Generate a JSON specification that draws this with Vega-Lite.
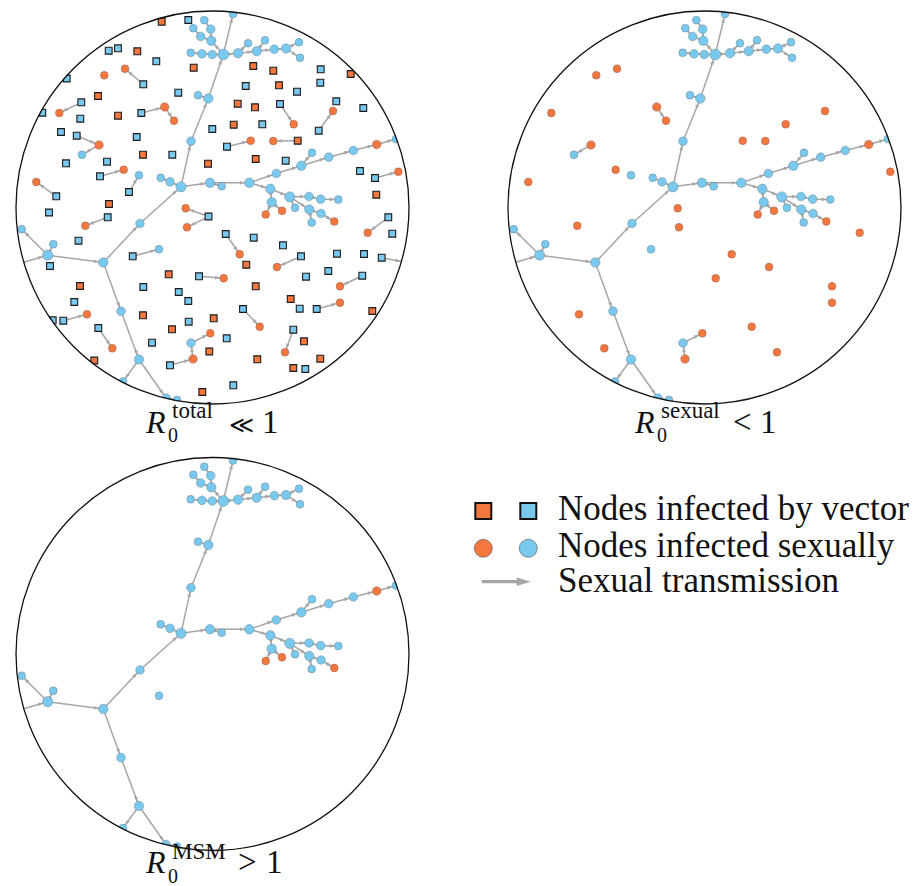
{
  "$schema": "https://vega.github.io/schema/vega-lite/v6.json",
  "width": 916,
  "height": 886,
  "padding": 0,
  "autosize": {"type": "none"},
  "background": "white",
  "config": {"view": {"stroke": null}, "legend": {"disable": true}},
  "datasets": {
    "nodes": [
      {"id": "tg", "x": 22, "y": 262.7, "grp": "b", "how": "none", "deg": 1, "panels": "123"},
      {"id": "L", "x": 47.7, "y": 255.2, "grp": "b", "how": "sexual", "deg": 4, "panels": "123"},
      {"id": "n2", "x": 21.7, "y": 229.2, "grp": "b", "how": "sexual", "deg": 1, "panels": "123"},
      {"id": "n3", "x": 53.3, "y": 244.2, "grp": "b", "how": "sexual", "deg": 1, "panels": "123"},
      {"id": "M", "x": 103.3, "y": 262.5, "grp": "b", "how": "sexual", "deg": 3, "panels": "123"},
      {"id": "a1", "x": 140, "y": 223.5, "grp": "b", "how": "sexual", "deg": 2, "panels": "123"},
      {"id": "C", "x": 181, "y": 186.8, "grp": "b", "how": "sexual", "deg": 4, "panels": "123"},
      {"id": "c1", "x": 170, "y": 181.8, "grp": "b", "how": "sexual", "deg": 2, "panels": "123"},
      {"id": "c2", "x": 160.7, "y": 177.8, "grp": "b", "how": "sexual", "deg": 1, "panels": "123"},
      {"id": "u1", "x": 191, "y": 141.2, "grp": "b", "how": "sexual", "deg": 2, "panels": "123"},
      {"id": "u2", "x": 208.3, "y": 98.5, "grp": "b", "how": "sexual", "deg": 3, "panels": "123"},
      {"id": "u3", "x": 198, "y": 95.2, "grp": "b", "how": "sexual", "deg": 1, "panels": "123"},
      {"id": "T", "x": 223.3, "y": 54.5, "grp": "b", "how": "sexual", "deg": 5, "panels": "123"},
      {"id": "tip", "x": 233, "y": 14, "grp": "b", "how": "sexual", "deg": 1, "panels": "123"},
      {"id": "l1", "x": 212.3, "y": 54.5, "grp": "b", "how": "sexual", "deg": 2, "panels": "123"},
      {"id": "l2", "x": 202, "y": 53.8, "grp": "b", "how": "sexual", "deg": 2, "panels": "123"},
      {"id": "l3", "x": 190.7, "y": 52.8, "grp": "b", "how": "sexual", "deg": 1, "panels": "123"},
      {"id": "k1", "x": 211.3, "y": 40.8, "grp": "b", "how": "sexual", "deg": 3, "panels": "123"},
      {"id": "k2", "x": 200.7, "y": 36.5, "grp": "b", "how": "sexual", "deg": 2, "panels": "123"},
      {"id": "k3", "x": 193.3, "y": 28.2, "grp": "b", "how": "sexual", "deg": 1, "panels": "123"},
      {"id": "k4", "x": 210.7, "y": 29.2, "grp": "b", "how": "sexual", "deg": 2, "panels": "123"},
      {"id": "k5", "x": 204.3, "y": 20.2, "grp": "b", "how": "sexual", "deg": 1, "panels": "123"},
      {"id": "r1", "x": 238, "y": 53.2, "grp": "b", "how": "sexual", "deg": 3, "panels": "123"},
      {"id": "r2", "x": 256.7, "y": 51.2, "grp": "b", "how": "sexual", "deg": 3, "panels": "123"},
      {"id": "r3", "x": 248, "y": 43.2, "grp": "b", "how": "sexual", "deg": 1, "panels": "123"},
      {"id": "r4", "x": 265, "y": 40.2, "grp": "b", "how": "sexual", "deg": 1, "panels": "123"},
      {"id": "r5", "x": 274.3, "y": 49.2, "grp": "b", "how": "sexual", "deg": 2, "panels": "123"},
      {"id": "r6", "x": 286, "y": 48.5, "grp": "b", "how": "sexual", "deg": 3, "panels": "123"},
      {"id": "r7", "x": 299, "y": 42.2, "grp": "b", "how": "sexual", "deg": 1, "panels": "123"},
      {"id": "r8", "x": 300, "y": 57.8, "grp": "b", "how": "sexual", "deg": 1, "panels": "123"},
      {"id": "m1", "x": 210, "y": 182.8, "grp": "b", "how": "sexual", "deg": 3, "panels": "123"},
      {"id": "m2", "x": 221.7, "y": 186.2, "grp": "b", "how": "sexual", "deg": 1, "panels": "123"},
      {"id": "m3", "x": 249.3, "y": 182.8, "grp": "b", "how": "sexual", "deg": 3, "panels": "123"},
      {"id": "e1", "x": 276.3, "y": 173.5, "grp": "b", "how": "sexual", "deg": 2, "panels": "123"},
      {"id": "e2", "x": 301.3, "y": 165.8, "grp": "b", "how": "sexual", "deg": 3, "panels": "123"},
      {"id": "e3", "x": 312, "y": 152.8, "grp": "b", "how": "sexual", "deg": 1, "panels": "123"},
      {"id": "e4", "x": 328.7, "y": 157.2, "grp": "b", "how": "sexual", "deg": 2, "panels": "123"},
      {"id": "e5", "x": 353.3, "y": 150.5, "grp": "b", "how": "sexual", "deg": 2, "panels": "123"},
      {"id": "e6", "x": 376.7, "y": 144.5, "grp": "a", "how": "sexual", "deg": 2, "panels": "123"},
      {"id": "e7", "x": 396, "y": 139, "grp": "b", "how": "sexual", "deg": 1, "panels": "123"},
      {"id": "s1", "x": 270.3, "y": 188.8, "grp": "b", "how": "sexual", "deg": 3, "panels": "123"},
      {"id": "s2", "x": 289.7, "y": 196.8, "grp": "b", "how": "sexual", "deg": 4, "panels": "123"},
      {"id": "s3", "x": 271.7, "y": 202.2, "grp": "b", "how": "sexual", "deg": 3, "panels": "123"},
      {"id": "s4", "x": 265.7, "y": 214.5, "grp": "a", "how": "sexual", "deg": 1, "panels": "123"},
      {"id": "s5", "x": 282, "y": 210.8, "grp": "a", "how": "sexual", "deg": 1, "panels": "123"},
      {"id": "s6", "x": 295, "y": 207.8, "grp": "b", "how": "sexual", "deg": 1, "panels": "123"},
      {"id": "s7", "x": 309, "y": 196.5, "grp": "b", "how": "sexual", "deg": 2, "panels": "123"},
      {"id": "s8", "x": 320.7, "y": 199.2, "grp": "b", "how": "sexual", "deg": 2, "panels": "123"},
      {"id": "s9", "x": 338.3, "y": 199.5, "grp": "b", "how": "sexual", "deg": 1, "panels": "123"},
      {"id": "s10", "x": 309.3, "y": 209.5, "grp": "b", "how": "sexual", "deg": 3, "panels": "123"},
      {"id": "s11", "x": 321, "y": 213.5, "grp": "b", "how": "sexual", "deg": 2, "panels": "123"},
      {"id": "s12", "x": 311.7, "y": 222.5, "grp": "b", "how": "sexual", "deg": 1, "panels": "123"},
      {"id": "s13", "x": 334.3, "y": 221.5, "grp": "a", "how": "sexual", "deg": 1, "panels": "123"},
      {"id": "d1", "x": 121, "y": 311.2, "grp": "b", "how": "sexual", "deg": 2, "panels": "123"},
      {"id": "d2", "x": 139, "y": 359.5, "grp": "b", "how": "sexual", "deg": 3, "panels": "123"},
      {"id": "d3", "x": 123, "y": 381.5, "grp": "b", "how": "sexual", "deg": 1, "panels": "123"},
      {"id": "d4", "x": 166, "y": 398, "grp": "b", "how": "sexual", "deg": 2, "panels": "123"},
      {"id": "d5", "x": 177, "y": 400, "grp": "b", "how": "sexual", "deg": 1, "panels": "123"},
      {"id": "o1", "x": 104.3, "y": 75.3, "grp": "a", "how": "sexual", "deg": 1, "panels": "12"},
      {"id": "o2", "x": 125, "y": 68.7, "grp": "a", "how": "sexual", "deg": 1, "panels": "12"},
      {"id": "o3", "x": 59.3, "y": 113, "grp": "a", "how": "sexual", "deg": 1, "panels": "12"},
      {"id": "o4", "x": 164.7, "y": 107, "grp": "a", "how": "sexual", "deg": 2, "panels": "12"},
      {"id": "o5", "x": 174, "y": 120.7, "grp": "a", "how": "sexual", "deg": 1, "panels": "12"},
      {"id": "o6", "x": 99, "y": 145, "grp": "a", "how": "sexual", "deg": 2, "panels": "12"},
      {"id": "o7", "x": 82, "y": 154.7, "grp": "b", "how": "sexual", "deg": 1, "panels": "12"},
      {"id": "o8", "x": 123.7, "y": 169.7, "grp": "a", "how": "sexual", "deg": 1, "panels": "12"},
      {"id": "o9", "x": 139, "y": 175.3, "grp": "b", "how": "sexual", "deg": 1, "panels": "12"},
      {"id": "o10", "x": 36.3, "y": 182, "grp": "a", "how": "sexual", "deg": 1, "panels": "12"},
      {"id": "o11", "x": 185.7, "y": 208.3, "grp": "a", "how": "sexual", "deg": 1, "panels": "12"},
      {"id": "o12", "x": 187, "y": 227.3, "grp": "a", "how": "sexual", "deg": 1, "panels": "12"},
      {"id": "o13", "x": 85.3, "y": 225.7, "grp": "a", "how": "sexual", "deg": 1, "panels": "12"},
      {"id": "o14", "x": 159, "y": 249.3, "grp": "b", "how": "sexual", "deg": 1, "panels": "123"},
      {"id": "o15", "x": 87, "y": 314.3, "grp": "a", "how": "sexual", "deg": 1, "panels": "12"},
      {"id": "o16", "x": 112.3, "y": 348.3, "grp": "a", "how": "sexual", "deg": 1, "panels": "12"},
      {"id": "o17", "x": 191, "y": 343, "grp": "b", "how": "sexual", "deg": 2, "panels": "12"},
      {"id": "o18", "x": 210.3, "y": 333.3, "grp": "a", "how": "sexual", "deg": 1, "panels": "12"},
      {"id": "o19", "x": 193, "y": 359, "grp": "a", "how": "sexual", "deg": 2, "panels": "12"},
      {"id": "o20", "x": 223.7, "y": 278.3, "grp": "a", "how": "sexual", "deg": 1, "panels": "12"},
      {"id": "o21", "x": 239.7, "y": 254.3, "grp": "a", "how": "sexual", "deg": 1, "panels": "12"},
      {"id": "o22", "x": 250.7, "y": 140.7, "grp": "a", "how": "sexual", "deg": 1, "panels": "12"},
      {"id": "o23", "x": 273.3, "y": 141, "grp": "a", "how": "sexual", "deg": 1, "panels": "12"},
      {"id": "o24", "x": 293.7, "y": 124.3, "grp": "a", "how": "sexual", "deg": 1, "panels": "12"},
      {"id": "o25", "x": 333, "y": 111, "grp": "a", "how": "sexual", "deg": 1, "panels": "12"},
      {"id": "o26", "x": 277, "y": 267, "grp": "a", "how": "sexual", "deg": 1, "panels": "12"},
      {"id": "o27", "x": 259.7, "y": 326.7, "grp": "a", "how": "sexual", "deg": 1, "panels": "12"},
      {"id": "o28", "x": 285, "y": 352.3, "grp": "a", "how": "sexual", "deg": 1, "panels": "12"},
      {"id": "o29", "x": 367.7, "y": 232.7, "grp": "a", "how": "sexual", "deg": 1, "panels": "12"},
      {"id": "o30", "x": 340, "y": 286.3, "grp": "a", "how": "sexual", "deg": 1, "panels": "12"},
      {"id": "o31", "x": 340, "y": 302.7, "grp": "a", "how": "sexual", "deg": 1, "panels": "12"},
      {"id": "o32", "x": 398.3, "y": 171.7, "grp": "a", "how": "sexual", "deg": 1, "panels": "12"},
      {"id": "g2", "x": 404, "y": 262, "grp": "b", "how": "none", "deg": 1, "panels": "1"},
      {"id": "v1", "x": 188.3, "y": 20, "grp": "b", "how": "vector", "deg": 1, "panels": "1"},
      {"id": "v2", "x": 161.7, "y": 21.7, "grp": "a", "how": "vector", "deg": 1, "panels": "1"},
      {"id": "v3", "x": 108.7, "y": 50.7, "grp": "b", "how": "vector", "deg": 1, "panels": "1"},
      {"id": "v4", "x": 118, "y": 48.3, "grp": "b", "how": "vector", "deg": 1, "panels": "1"},
      {"id": "v5", "x": 137.3, "y": 51.3, "grp": "a", "how": "vector", "deg": 1, "panels": "1"},
      {"id": "v6", "x": 156.3, "y": 61.3, "grp": "b", "how": "vector", "deg": 1, "panels": "1"},
      {"id": "v7", "x": 193.7, "y": 67.7, "grp": "a", "how": "vector", "deg": 1, "panels": "1"},
      {"id": "v8", "x": 143.3, "y": 84.3, "grp": "b", "how": "vector", "deg": 1, "panels": "1"},
      {"id": "v9", "x": 66.7, "y": 78.5, "grp": "b", "how": "vector", "deg": 1, "panels": "1"},
      {"id": "v10", "x": 98, "y": 96, "grp": "a", "how": "vector", "deg": 1, "panels": "1"},
      {"id": "v11", "x": 178.3, "y": 92.7, "grp": "b", "how": "vector", "deg": 1, "panels": "1"},
      {"id": "v12", "x": 81.3, "y": 102.3, "grp": "b", "how": "vector", "deg": 1, "panels": "1"},
      {"id": "v13", "x": 42.3, "y": 112.7, "grp": "b", "how": "vector", "deg": 1, "panels": "1"},
      {"id": "v14", "x": 118, "y": 115.7, "grp": "a", "how": "vector", "deg": 1, "panels": "1"},
      {"id": "v15", "x": 141.3, "y": 113, "grp": "b", "how": "vector", "deg": 1, "panels": "1"},
      {"id": "v16", "x": 80.3, "y": 118.7, "grp": "b", "how": "vector", "deg": 1, "panels": "1"},
      {"id": "v17", "x": 61, "y": 132, "grp": "b", "how": "vector", "deg": 1, "panels": "1"},
      {"id": "v18", "x": 76.7, "y": 135.7, "grp": "b", "how": "vector", "deg": 1, "panels": "1"},
      {"id": "v19", "x": 136.7, "y": 137, "grp": "b", "how": "vector", "deg": 1, "panels": "1"},
      {"id": "v20", "x": 143, "y": 154.7, "grp": "a", "how": "vector", "deg": 1, "panels": "1"},
      {"id": "v21", "x": 172.3, "y": 154.7, "grp": "b", "how": "vector", "deg": 1, "panels": "1"},
      {"id": "v22", "x": 212.3, "y": 129, "grp": "b", "how": "vector", "deg": 1, "panels": "1"},
      {"id": "v23", "x": 208, "y": 163.7, "grp": "a", "how": "vector", "deg": 1, "panels": "1"},
      {"id": "v24", "x": 66, "y": 163.3, "grp": "b", "how": "vector", "deg": 1, "panels": "1"},
      {"id": "v25", "x": 107, "y": 161.7, "grp": "b", "how": "vector", "deg": 1, "panels": "1"},
      {"id": "v26", "x": 100, "y": 176.3, "grp": "b", "how": "vector", "deg": 1, "panels": "1"},
      {"id": "v27", "x": 129, "y": 192, "grp": "b", "how": "vector", "deg": 1, "panels": "1"},
      {"id": "v28", "x": 56.3, "y": 196.3, "grp": "b", "how": "vector", "deg": 1, "panels": "1"},
      {"id": "v29", "x": 109, "y": 204, "grp": "a", "how": "vector", "deg": 1, "panels": "1"},
      {"id": "v30", "x": 49, "y": 212.5, "grp": "b", "how": "vector", "deg": 1, "panels": "1"},
      {"id": "v31", "x": 107.7, "y": 217.3, "grp": "b", "how": "vector", "deg": 1, "panels": "1"},
      {"id": "v32", "x": 78.5, "y": 240.7, "grp": "b", "how": "vector", "deg": 1, "panels": "1"},
      {"id": "v33", "x": 208.5, "y": 216.5, "grp": "b", "how": "vector", "deg": 1, "panels": "1"},
      {"id": "v34", "x": 50, "y": 266, "grp": "b", "how": "vector", "deg": 1, "panels": "1"},
      {"id": "v35", "x": 132.7, "y": 256.3, "grp": "b", "how": "vector", "deg": 1, "panels": "1"},
      {"id": "v36", "x": 168.7, "y": 274.3, "grp": "a", "how": "vector", "deg": 1, "panels": "1"},
      {"id": "v37", "x": 199, "y": 276.3, "grp": "b", "how": "vector", "deg": 1, "panels": "1"},
      {"id": "v38", "x": 80, "y": 286, "grp": "a", "how": "vector", "deg": 1, "panels": "1"},
      {"id": "v39", "x": 143.3, "y": 287, "grp": "b", "how": "vector", "deg": 1, "panels": "1"},
      {"id": "v40", "x": 178.7, "y": 292, "grp": "b", "how": "vector", "deg": 1, "panels": "1"},
      {"id": "v41", "x": 188.3, "y": 301, "grp": "b", "how": "vector", "deg": 1, "panels": "1"},
      {"id": "v42", "x": 74.3, "y": 302, "grp": "b", "how": "vector", "deg": 1, "panels": "1"},
      {"id": "v43", "x": 52.7, "y": 320.3, "grp": "b", "how": "vector", "deg": 1, "panels": "1"},
      {"id": "v44", "x": 63.3, "y": 320.7, "grp": "b", "how": "vector", "deg": 1, "panels": "1"},
      {"id": "v45", "x": 143, "y": 315.3, "grp": "a", "how": "vector", "deg": 1, "panels": "1"},
      {"id": "v46", "x": 188.7, "y": 321.7, "grp": "b", "how": "vector", "deg": 1, "panels": "1"},
      {"id": "v47", "x": 213.7, "y": 318.3, "grp": "a", "how": "vector", "deg": 1, "panels": "1"},
      {"id": "v48", "x": 98.3, "y": 328, "grp": "b", "how": "vector", "deg": 1, "panels": "1"},
      {"id": "v49", "x": 172, "y": 329.3, "grp": "a", "how": "vector", "deg": 1, "panels": "1"},
      {"id": "v50", "x": 152, "y": 342.7, "grp": "b", "how": "vector", "deg": 1, "panels": "1"},
      {"id": "v51", "x": 209.3, "y": 351.5, "grp": "a", "how": "vector", "deg": 1, "panels": "1"},
      {"id": "v52", "x": 170, "y": 365.3, "grp": "b", "how": "vector", "deg": 1, "panels": "1"},
      {"id": "v53", "x": 94.3, "y": 360.5, "grp": "a", "how": "vector", "deg": 1, "panels": "1"},
      {"id": "v54", "x": 202.3, "y": 392, "grp": "a", "how": "vector", "deg": 1, "panels": "1"},
      {"id": "v55", "x": 253.3, "y": 66, "grp": "a", "how": "vector", "deg": 1, "panels": "1"},
      {"id": "v56", "x": 273.3, "y": 70.7, "grp": "a", "how": "vector", "deg": 1, "panels": "1"},
      {"id": "v57", "x": 320.7, "y": 69.3, "grp": "b", "how": "vector", "deg": 1, "panels": "1"},
      {"id": "v58", "x": 350.7, "y": 74, "grp": "a", "how": "vector", "deg": 1, "panels": "1"},
      {"id": "v59", "x": 245.7, "y": 86, "grp": "b", "how": "vector", "deg": 1, "panels": "1"},
      {"id": "v60", "x": 279, "y": 85.3, "grp": "a", "how": "vector", "deg": 1, "panels": "1"},
      {"id": "v61", "x": 320.3, "y": 82.7, "grp": "b", "how": "vector", "deg": 1, "panels": "1"},
      {"id": "v62", "x": 297, "y": 91.7, "grp": "b", "how": "vector", "deg": 1, "panels": "1"},
      {"id": "v63", "x": 237.7, "y": 103.7, "grp": "a", "how": "vector", "deg": 1, "panels": "1"},
      {"id": "v64", "x": 255, "y": 107.3, "grp": "a", "how": "vector", "deg": 1, "panels": "1"},
      {"id": "v65", "x": 280, "y": 104, "grp": "b", "how": "vector", "deg": 1, "panels": "1"},
      {"id": "v66", "x": 336.3, "y": 101.3, "grp": "b", "how": "vector", "deg": 1, "panels": "1"},
      {"id": "v67", "x": 363.3, "y": 108, "grp": "b", "how": "vector", "deg": 1, "panels": "1"},
      {"id": "v68", "x": 318.7, "y": 130.7, "grp": "b", "how": "vector", "deg": 1, "panels": "1"},
      {"id": "v69", "x": 233.7, "y": 124.7, "grp": "a", "how": "vector", "deg": 1, "panels": "1"},
      {"id": "v70", "x": 262.3, "y": 124.3, "grp": "b", "how": "vector", "deg": 1, "panels": "1"},
      {"id": "v71", "x": 227, "y": 146.7, "grp": "b", "how": "vector", "deg": 1, "panels": "1"},
      {"id": "v72", "x": 297.7, "y": 140.7, "grp": "a", "how": "vector", "deg": 1, "panels": "1"},
      {"id": "v73", "x": 255.7, "y": 159, "grp": "a", "how": "vector", "deg": 1, "panels": "1"},
      {"id": "v74", "x": 285.7, "y": 160.7, "grp": "b", "how": "vector", "deg": 1, "panels": "1"},
      {"id": "v75", "x": 360, "y": 171, "grp": "b", "how": "vector", "deg": 1, "panels": "1"},
      {"id": "v76", "x": 375, "y": 178, "grp": "b", "how": "vector", "deg": 1, "panels": "1"},
      {"id": "v77", "x": 376.3, "y": 194.7, "grp": "a", "how": "vector", "deg": 1, "panels": "1"},
      {"id": "v78", "x": 388.3, "y": 217.3, "grp": "b", "how": "vector", "deg": 1, "panels": "1"},
      {"id": "v79", "x": 225.7, "y": 234, "grp": "b", "how": "vector", "deg": 1, "panels": "1"},
      {"id": "v80", "x": 253.7, "y": 237.7, "grp": "b", "how": "vector", "deg": 1, "panels": "1"},
      {"id": "v81", "x": 283, "y": 245.3, "grp": "b", "how": "vector", "deg": 1, "panels": "1"},
      {"id": "v82", "x": 392.3, "y": 233.7, "grp": "b", "how": "vector", "deg": 1, "panels": "1"},
      {"id": "v83", "x": 246.3, "y": 264.7, "grp": "a", "how": "vector", "deg": 1, "panels": "1"},
      {"id": "v84", "x": 301, "y": 256.3, "grp": "b", "how": "vector", "deg": 1, "panels": "1"},
      {"id": "v85", "x": 337, "y": 253.7, "grp": "b", "how": "vector", "deg": 1, "panels": "1"},
      {"id": "v86", "x": 364, "y": 254, "grp": "b", "how": "vector", "deg": 1, "panels": "1"},
      {"id": "v87", "x": 381.7, "y": 257.7, "grp": "b", "how": "vector", "deg": 1, "panels": "1"},
      {"id": "v88", "x": 306, "y": 276.7, "grp": "b", "how": "vector", "deg": 1, "panels": "1"},
      {"id": "v89", "x": 328.3, "y": 271, "grp": "b", "how": "vector", "deg": 1, "panels": "1"},
      {"id": "v90", "x": 362.3, "y": 275.7, "grp": "b", "how": "vector", "deg": 1, "panels": "1"},
      {"id": "v91", "x": 255.7, "y": 286.3, "grp": "a", "how": "vector", "deg": 1, "panels": "1"},
      {"id": "v92", "x": 290.7, "y": 299, "grp": "a", "how": "vector", "deg": 1, "panels": "1"},
      {"id": "v93", "x": 299.7, "y": 308.7, "grp": "b", "how": "vector", "deg": 1, "panels": "1"},
      {"id": "v94", "x": 316.7, "y": 309, "grp": "b", "how": "vector", "deg": 1, "panels": "1"},
      {"id": "v95", "x": 372.3, "y": 311, "grp": "a", "how": "vector", "deg": 1, "panels": "1"},
      {"id": "v96", "x": 243, "y": 309, "grp": "b", "how": "vector", "deg": 1, "panels": "1"},
      {"id": "v97", "x": 226.7, "y": 338.3, "grp": "b", "how": "vector", "deg": 1, "panels": "1"},
      {"id": "v98", "x": 293.3, "y": 329.7, "grp": "b", "how": "vector", "deg": 1, "panels": "1"},
      {"id": "v99", "x": 304, "y": 341.3, "grp": "a", "how": "vector", "deg": 1, "panels": "1"},
      {"id": "v100", "x": 257.3, "y": 359.3, "grp": "a", "how": "vector", "deg": 1, "panels": "1"},
      {"id": "v101", "x": 320.3, "y": 358.7, "grp": "a", "how": "vector", "deg": 1, "panels": "1"},
      {"id": "v102", "x": 293.3, "y": 368, "grp": "a", "how": "vector", "deg": 1, "panels": "1"},
      {"id": "v103", "x": 305.3, "y": 369, "grp": "b", "how": "vector", "deg": 1, "panels": "1"},
      {"id": "v104", "x": 233.3, "y": 385.3, "grp": "b", "how": "vector", "deg": 1, "panels": "1"}
    ],
    "edges": [
      {"s": "tg", "t": "L", "panels": "123"},
      {"s": "L", "t": "n2", "panels": "123"},
      {"s": "L", "t": "n3", "panels": "123"},
      {"s": "L", "t": "M", "panels": "123"},
      {"s": "M", "t": "a1", "panels": "123"},
      {"s": "a1", "t": "C", "panels": "123"},
      {"s": "M", "t": "d1", "panels": "123"},
      {"s": "d1", "t": "d2", "panels": "123"},
      {"s": "d2", "t": "d3", "panels": "123"},
      {"s": "d2", "t": "d4", "panels": "123"},
      {"s": "d4", "t": "d5", "panels": "123"},
      {"s": "C", "t": "c1", "panels": "123"},
      {"s": "c1", "t": "c2", "panels": "123"},
      {"s": "C", "t": "u1", "panels": "123"},
      {"s": "u1", "t": "u2", "panels": "123"},
      {"s": "u2", "t": "u3", "panels": "123"},
      {"s": "u2", "t": "T", "panels": "123"},
      {"s": "T", "t": "tip", "panels": "123"},
      {"s": "T", "t": "l1", "panels": "123"},
      {"s": "l1", "t": "l2", "panels": "123"},
      {"s": "l2", "t": "l3", "panels": "123"},
      {"s": "T", "t": "k1", "panels": "123"},
      {"s": "k1", "t": "k2", "panels": "123"},
      {"s": "k2", "t": "k3", "panels": "123"},
      {"s": "k1", "t": "k4", "panels": "123"},
      {"s": "k4", "t": "k5", "panels": "123"},
      {"s": "T", "t": "r1", "panels": "123"},
      {"s": "r1", "t": "r3", "panels": "123"},
      {"s": "r1", "t": "r2", "panels": "123"},
      {"s": "r2", "t": "r4", "panels": "123"},
      {"s": "r2", "t": "r5", "panels": "123"},
      {"s": "r5", "t": "r6", "panels": "123"},
      {"s": "r6", "t": "r7", "panels": "123"},
      {"s": "r6", "t": "r8", "panels": "123"},
      {"s": "C", "t": "m1", "panels": "123"},
      {"s": "m1", "t": "m2", "panels": "123"},
      {"s": "m1", "t": "m3", "panels": "123"},
      {"s": "m3", "t": "e1", "panels": "123"},
      {"s": "e1", "t": "e2", "panels": "123"},
      {"s": "e2", "t": "e3", "panels": "123"},
      {"s": "e2", "t": "e4", "panels": "123"},
      {"s": "e4", "t": "e5", "panels": "123"},
      {"s": "e5", "t": "e6", "panels": "123"},
      {"s": "e6", "t": "e7", "panels": "123"},
      {"s": "m3", "t": "s1", "panels": "123"},
      {"s": "s1", "t": "s2", "panels": "123"},
      {"s": "s1", "t": "s3", "panels": "123"},
      {"s": "s3", "t": "s4", "panels": "123"},
      {"s": "s3", "t": "s5", "panels": "123"},
      {"s": "s2", "t": "s6", "panels": "123"},
      {"s": "s2", "t": "s7", "panels": "123"},
      {"s": "s7", "t": "s8", "panels": "123"},
      {"s": "s8", "t": "s9", "panels": "123"},
      {"s": "s2", "t": "s10", "panels": "123"},
      {"s": "s10", "t": "s11", "panels": "123"},
      {"s": "s11", "t": "s13", "panels": "123"},
      {"s": "s10", "t": "s12", "panels": "123"},
      {"s": "v8", "t": "o2", "panels": "1"},
      {"s": "v12", "t": "o3", "panels": "1"},
      {"s": "v15", "t": "o4", "panels": "1"},
      {"s": "o4", "t": "o5", "panels": "12"},
      {"s": "v18", "t": "o6", "panels": "1"},
      {"s": "o6", "t": "o7", "panels": "12"},
      {"s": "v26", "t": "o8", "panels": "1"},
      {"s": "v27", "t": "o9", "panels": "1"},
      {"s": "v28", "t": "o10", "panels": "1"},
      {"s": "v31", "t": "o13", "panels": "1"},
      {"s": "v33", "t": "o11", "panels": "1"},
      {"s": "v33", "t": "o12", "panels": "1"},
      {"s": "v35", "t": "o14", "panels": "1"},
      {"s": "v37", "t": "o20", "panels": "1"},
      {"s": "v44", "t": "o15", "panels": "1"},
      {"s": "v48", "t": "o16", "panels": "1"},
      {"s": "v52", "t": "o19", "panels": "1"},
      {"s": "o19", "t": "o17", "panels": "12"},
      {"s": "o17", "t": "o18", "panels": "12"},
      {"s": "v78", "t": "o29", "panels": "1"},
      {"s": "v79", "t": "o21", "panels": "1"},
      {"s": "v84", "t": "o26", "panels": "1"},
      {"s": "v87", "t": "g2", "panels": "1"},
      {"s": "v90", "t": "o30", "panels": "1"},
      {"s": "v94", "t": "o31", "panels": "1"},
      {"s": "v96", "t": "o27", "panels": "1"},
      {"s": "v98", "t": "o28", "panels": "1"},
      {"s": "v65", "t": "o24", "panels": "1"},
      {"s": "v68", "t": "o25", "panels": "1"},
      {"s": "v71", "t": "o22", "panels": "1"},
      {"s": "v72", "t": "o23", "panels": "1"},
      {"s": "v76", "t": "o32", "panels": "1"}
    ]
  },
  "resolve": {"scale": {"x": "independent", "y": "independent"}},
  "layer": [
    {
      "layer": [
        {
          "data": {"name": "edges"},
          "transform": [
            {"filter": "indexof(datum.panels, '1') >= 0"},
            {"lookup": "s", "from": {"data": {"name": "nodes"}, "key": "id", "fields": ["x", "y"]}, "as": ["sx", "sy"]},
            {"lookup": "t", "from": {"data": {"name": "nodes"}, "key": "id", "fields": ["x", "y", "deg"]}, "as": ["tx", "ty", "tdeg"]},
            {"calculate": "datum.tx - datum.sx", "as": "dx"},
            {"calculate": "datum.ty - datum.sy", "as": "dy"},
            {"calculate": "sqrt(datum.dx * datum.dx + datum.dy * datum.dy)", "as": "len"},
            {"calculate": "sqrt(62 + (datum.tdeg - 1) * 14.5) / 2 + 2.4", "as": "off"},
            {"calculate": "datum.tx - datum.off * datum.dx / datum.len", "as": "ax"},
            {"calculate": "datum.ty - datum.off * datum.dy / datum.len", "as": "ay"},
            {"calculate": "atan2(datum.dy, datum.dx) * 180 / PI", "as": "ang"}
          ],
          "layer": [
            {
              "mark": {"type": "rule", "color": "#a6a6a6", "strokeWidth": 1.5},
              "encoding": {
                "x": {"field": "sx", "type": "quantitative", "scale": {"domain": [0, 916], "nice": false, "zero": false}, "axis": null},
                "y": {"field": "sy", "type": "quantitative", "scale": {"domain": [0, 886], "nice": false, "zero": false, "reverse": true}, "axis": null},
                "x2": {"field": "tx"},
                "y2": {"field": "ty"}
              }
            },
            {
              "mark": {"type": "point", "shape": "M-1,-0.8L1,0L-1,0.8Z", "filled": true, "color": "#a6a6a6", "size": 22, "opacity": 1},
              "encoding": {
                "x": {"field": "ax", "type": "quantitative", "scale": {"domain": [0, 916], "nice": false, "zero": false}, "axis": null},
                "y": {"field": "ay", "type": "quantitative", "scale": {"domain": [0, 886], "nice": false, "zero": false, "reverse": true}, "axis": null},
                "angle": {"field": "ang", "type": "quantitative", "scale": null}
              }
            }
          ]
        },
        {
          "data": {"name": "nodes"},
          "transform": [{"filter": "indexof(datum.panels, '1') >= 0 && datum.how === 'sexual'"}],
          "mark": {"type": "point", "shape": "circle", "filled": true, "stroke": "#555555", "strokeWidth": 0.5, "strokeOpacity": 0.6, "opacity": 1},
          "encoding": {
            "x": {"field": "x", "type": "quantitative", "scale": {"domain": [0, 916], "nice": false, "zero": false}, "axis": null},
            "y": {"field": "y", "type": "quantitative", "scale": {"domain": [0, 886], "nice": false, "zero": false, "reverse": true}, "axis": null},
            "color": {"field": "grp", "type": "nominal", "scale": {"domain": ["a", "b"], "range": ["#F3773F", "#79C8EE"]}, "legend": null},
            "size": {"field": "deg", "type": "quantitative", "scale": {"domain": [1, 5], "range": [62, 120]}, "legend": null}
          }
        },
        {
          "data": {"name": "nodes"},
          "transform": [{"filter": "indexof(datum.panels, '1') >= 0 && datum.how === 'vector'"}],
          "mark": {"type": "point", "shape": "square", "filled": true, "stroke": "#1a1a1a", "strokeWidth": 1.1, "size": 46, "opacity": 1},
          "encoding": {
            "x": {"field": "x", "type": "quantitative", "scale": {"domain": [0, 916], "nice": false, "zero": false}, "axis": null},
            "y": {"field": "y", "type": "quantitative", "scale": {"domain": [0, 886], "nice": false, "zero": false, "reverse": true}, "axis": null},
            "color": {"field": "grp", "type": "nominal", "scale": {"domain": ["a", "b"], "range": ["#F3773F", "#79C8EE"]}, "legend": null}
          }
        },
        {
          "data": {"values": [{}]},
          "mark": {"type": "point", "shape": "circle", "filled": false, "color": "white", "strokeWidth": 13, "size": 165649, "opacity": 1},
          "encoding": {
            "x": {"datum": 212.5, "type": "quantitative", "scale": {"domain": [0, 916], "nice": false, "zero": false}, "axis": null},
            "y": {"datum": 207.5, "type": "quantitative", "scale": {"domain": [0, 886], "nice": false, "zero": false, "reverse": true}, "axis": null}
          }
        },
        {
          "data": {"values": [{}]},
          "mark": {"type": "point", "shape": "circle", "filled": false, "color": "#111111", "strokeWidth": 1.3, "size": 154449, "opacity": 1},
          "encoding": {
            "x": {"datum": 212.5, "type": "quantitative", "scale": {"domain": [0, 916], "nice": false, "zero": false}, "axis": null},
            "y": {"datum": 207.5, "type": "quantitative", "scale": {"domain": [0, 886], "nice": false, "zero": false, "reverse": true}, "axis": null}
          }
        }
      ]
    },
    {
      "layer": [
        {
          "data": {"name": "edges"},
          "transform": [
            {"filter": "indexof(datum.panels, '2') >= 0"},
            {"lookup": "s", "from": {"data": {"name": "nodes"}, "key": "id", "fields": ["x", "y"]}, "as": ["sx", "sy"]},
            {"lookup": "t", "from": {"data": {"name": "nodes"}, "key": "id", "fields": ["x", "y", "deg"]}, "as": ["tx", "ty", "tdeg"]},
            {"calculate": "datum.tx - datum.sx", "as": "dx"},
            {"calculate": "datum.ty - datum.sy", "as": "dy"},
            {"calculate": "sqrt(datum.dx * datum.dx + datum.dy * datum.dy)", "as": "len"},
            {"calculate": "sqrt(62 + (datum.tdeg - 1) * 14.5) / 2 + 2.4", "as": "off"},
            {"calculate": "datum.tx - datum.off * datum.dx / datum.len", "as": "ax"},
            {"calculate": "datum.ty - datum.off * datum.dy / datum.len", "as": "ay"},
            {"calculate": "atan2(datum.dy, datum.dx) * 180 / PI", "as": "ang"}
          ],
          "layer": [
            {
              "mark": {"type": "rule", "color": "#a6a6a6", "strokeWidth": 1.5},
              "encoding": {
                "x": {"field": "sx", "type": "quantitative", "scale": {"domain": [-492, 424], "nice": false, "zero": false}, "axis": null},
                "y": {"field": "sy", "type": "quantitative", "scale": {"domain": [0, 886], "nice": false, "zero": false, "reverse": true}, "axis": null},
                "x2": {"field": "tx"},
                "y2": {"field": "ty"}
              }
            },
            {
              "mark": {"type": "point", "shape": "M-1,-0.8L1,0L-1,0.8Z", "filled": true, "color": "#a6a6a6", "size": 22, "opacity": 1},
              "encoding": {
                "x": {"field": "ax", "type": "quantitative", "scale": {"domain": [-492, 424], "nice": false, "zero": false}, "axis": null},
                "y": {"field": "ay", "type": "quantitative", "scale": {"domain": [0, 886], "nice": false, "zero": false, "reverse": true}, "axis": null},
                "angle": {"field": "ang", "type": "quantitative", "scale": null}
              }
            }
          ]
        },
        {
          "data": {"name": "nodes"},
          "transform": [{"filter": "indexof(datum.panels, '2') >= 0 && datum.how === 'sexual'"}],
          "mark": {"type": "point", "shape": "circle", "filled": true, "stroke": "#555555", "strokeWidth": 0.5, "strokeOpacity": 0.6, "opacity": 1},
          "encoding": {
            "x": {"field": "x", "type": "quantitative", "scale": {"domain": [-492, 424], "nice": false, "zero": false}, "axis": null},
            "y": {"field": "y", "type": "quantitative", "scale": {"domain": [0, 886], "nice": false, "zero": false, "reverse": true}, "axis": null},
            "color": {"field": "grp", "type": "nominal", "scale": {"domain": ["a", "b"], "range": ["#F3773F", "#79C8EE"]}, "legend": null},
            "size": {"field": "deg", "type": "quantitative", "scale": {"domain": [1, 5], "range": [62, 120]}, "legend": null}
          }
        },
        {
          "data": {"values": [{}]},
          "mark": {"type": "point", "shape": "circle", "filled": false, "color": "white", "strokeWidth": 13, "size": 165649, "opacity": 1},
          "encoding": {
            "x": {"datum": 212.5, "type": "quantitative", "scale": {"domain": [-492, 424], "nice": false, "zero": false}, "axis": null},
            "y": {"datum": 207.5, "type": "quantitative", "scale": {"domain": [0, 886], "nice": false, "zero": false, "reverse": true}, "axis": null}
          }
        },
        {
          "data": {"values": [{}]},
          "mark": {"type": "point", "shape": "circle", "filled": false, "color": "#111111", "strokeWidth": 1.3, "size": 154449, "opacity": 1},
          "encoding": {
            "x": {"datum": 212.5, "type": "quantitative", "scale": {"domain": [-492, 424], "nice": false, "zero": false}, "axis": null},
            "y": {"datum": 207.5, "type": "quantitative", "scale": {"domain": [0, 886], "nice": false, "zero": false, "reverse": true}, "axis": null}
          }
        }
      ]
    },
    {
      "layer": [
        {
          "data": {"name": "edges"},
          "transform": [
            {"filter": "indexof(datum.panels, '3') >= 0"},
            {"lookup": "s", "from": {"data": {"name": "nodes"}, "key": "id", "fields": ["x", "y"]}, "as": ["sx", "sy"]},
            {"lookup": "t", "from": {"data": {"name": "nodes"}, "key": "id", "fields": ["x", "y", "deg"]}, "as": ["tx", "ty", "tdeg"]},
            {"calculate": "datum.tx - datum.sx", "as": "dx"},
            {"calculate": "datum.ty - datum.sy", "as": "dy"},
            {"calculate": "sqrt(datum.dx * datum.dx + datum.dy * datum.dy)", "as": "len"},
            {"calculate": "sqrt(62 + (datum.tdeg - 1) * 14.5) / 2 + 2.4", "as": "off"},
            {"calculate": "datum.tx - datum.off * datum.dx / datum.len", "as": "ax"},
            {"calculate": "datum.ty - datum.off * datum.dy / datum.len", "as": "ay"},
            {"calculate": "atan2(datum.dy, datum.dx) * 180 / PI", "as": "ang"}
          ],
          "layer": [
            {
              "mark": {"type": "rule", "color": "#a6a6a6", "strokeWidth": 1.5},
              "encoding": {
                "x": {"field": "sx", "type": "quantitative", "scale": {"domain": [0, 916], "nice": false, "zero": false}, "axis": null},
                "y": {"field": "sy", "type": "quantitative", "scale": {"domain": [-446.5, 439.5], "nice": false, "zero": false, "reverse": true}, "axis": null},
                "x2": {"field": "tx"},
                "y2": {"field": "ty"}
              }
            },
            {
              "mark": {"type": "point", "shape": "M-1,-0.8L1,0L-1,0.8Z", "filled": true, "color": "#a6a6a6", "size": 22, "opacity": 1},
              "encoding": {
                "x": {"field": "ax", "type": "quantitative", "scale": {"domain": [0, 916], "nice": false, "zero": false}, "axis": null},
                "y": {"field": "ay", "type": "quantitative", "scale": {"domain": [-446.5, 439.5], "nice": false, "zero": false, "reverse": true}, "axis": null},
                "angle": {"field": "ang", "type": "quantitative", "scale": null}
              }
            }
          ]
        },
        {
          "data": {"name": "nodes"},
          "transform": [{"filter": "indexof(datum.panels, '3') >= 0 && datum.how === 'sexual'"}],
          "mark": {"type": "point", "shape": "circle", "filled": true, "stroke": "#555555", "strokeWidth": 0.5, "strokeOpacity": 0.6, "opacity": 1},
          "encoding": {
            "x": {"field": "x", "type": "quantitative", "scale": {"domain": [0, 916], "nice": false, "zero": false}, "axis": null},
            "y": {"field": "y", "type": "quantitative", "scale": {"domain": [-446.5, 439.5], "nice": false, "zero": false, "reverse": true}, "axis": null},
            "color": {"field": "grp", "type": "nominal", "scale": {"domain": ["a", "b"], "range": ["#F3773F", "#79C8EE"]}, "legend": null},
            "size": {"field": "deg", "type": "quantitative", "scale": {"domain": [1, 5], "range": [62, 120]}, "legend": null}
          }
        },
        {
          "data": {"values": [{}]},
          "mark": {"type": "point", "shape": "circle", "filled": false, "color": "white", "strokeWidth": 13, "size": 165649, "opacity": 1},
          "encoding": {
            "x": {"datum": 212.5, "type": "quantitative", "scale": {"domain": [0, 916], "nice": false, "zero": false}, "axis": null},
            "y": {"datum": 207.5, "type": "quantitative", "scale": {"domain": [-446.5, 439.5], "nice": false, "zero": false, "reverse": true}, "axis": null}
          }
        },
        {
          "data": {"values": [{}]},
          "mark": {"type": "point", "shape": "circle", "filled": false, "color": "#111111", "strokeWidth": 1.3, "size": 154449, "opacity": 1},
          "encoding": {
            "x": {"datum": 212.5, "type": "quantitative", "scale": {"domain": [0, 916], "nice": false, "zero": false}, "axis": null},
            "y": {"datum": 207.5, "type": "quantitative", "scale": {"domain": [-446.5, 439.5], "nice": false, "zero": false, "reverse": true}, "axis": null}
          }
        }
      ]
    },
    {
      "data": {"values": [{}]},
      "layer": [
        {"mark": {"type": "point", "shape": "square", "filled": true, "color": "#F3773F", "stroke": "#111111", "strokeWidth": 2, "size": 256, "opacity": 1},
         "encoding": {"x": {"datum": 483.3, "type": "quantitative", "scale": {"domain": [0, 916], "nice": false, "zero": false}, "axis": null}, "y": {"datum": 511, "type": "quantitative", "scale": {"domain": [0, 886], "nice": false, "zero": false, "reverse": true}, "axis": null}}},
        {"mark": {"type": "point", "shape": "square", "filled": true, "color": "#79C8EE", "stroke": "#111111", "strokeWidth": 2, "size": 256, "opacity": 1},
         "encoding": {"x": {"datum": 528.3, "type": "quantitative", "scale": {"domain": [0, 916], "nice": false, "zero": false}, "axis": null}, "y": {"datum": 511, "type": "quantitative", "scale": {"domain": [0, 886], "nice": false, "zero": false, "reverse": true}, "axis": null}}},
        {"mark": {"type": "point", "shape": "circle", "filled": true, "color": "#F3773F", "stroke": "#666666", "strokeWidth": 0.7, "size": 324, "opacity": 1},
         "encoding": {"x": {"datum": 483.3, "type": "quantitative", "scale": {"domain": [0, 916], "nice": false, "zero": false}, "axis": null}, "y": {"datum": 548.3, "type": "quantitative", "scale": {"domain": [0, 886], "nice": false, "zero": false, "reverse": true}, "axis": null}}},
        {"mark": {"type": "point", "shape": "circle", "filled": true, "color": "#79C8EE", "stroke": "#666666", "strokeWidth": 0.7, "size": 324, "opacity": 1},
         "encoding": {"x": {"datum": 528.3, "type": "quantitative", "scale": {"domain": [0, 916], "nice": false, "zero": false}, "axis": null}, "y": {"datum": 548.3, "type": "quantitative", "scale": {"domain": [0, 886], "nice": false, "zero": false, "reverse": true}, "axis": null}}},
        {"mark": {"type": "rule", "color": "#a6a6a6", "strokeWidth": 3.2},
         "encoding": {"x": {"datum": 481.7, "type": "quantitative", "scale": {"domain": [0, 916], "nice": false, "zero": false}, "axis": null}, "x2": {"datum": 520}, "y": {"datum": 581.7, "type": "quantitative", "scale": {"domain": [0, 886], "nice": false, "zero": false, "reverse": true}, "axis": null}}},
        {"mark": {"type": "point", "shape": "M-1,-0.6L1,0L-1,0.6Z", "filled": true, "color": "#a6a6a6", "size": 196, "opacity": 1},
         "encoding": {"x": {"datum": 523.7, "type": "quantitative", "scale": {"domain": [0, 916], "nice": false, "zero": false}, "axis": null}, "y": {"datum": 581.7, "type": "quantitative", "scale": {"domain": [0, 886], "nice": false, "zero": false, "reverse": true}, "axis": null}}},
        {"mark": {"type": "text", "font": "Liberation Serif", "fontSize": 35, "align": "left", "baseline": "alphabetic", "color": "#111111"},
         "encoding": {"x": {"datum": 558, "type": "quantitative", "scale": {"domain": [0, 916], "nice": false, "zero": false}, "axis": null}, "y": {"datum": 520, "type": "quantitative", "scale": {"domain": [0, 886], "nice": false, "zero": false, "reverse": true}, "axis": null}, "text": {"value": "Nodes infected by vector"}}},
        {"mark": {"type": "text", "font": "Liberation Serif", "fontSize": 35, "align": "left", "baseline": "alphabetic", "color": "#111111"},
         "encoding": {"x": {"datum": 558, "type": "quantitative", "scale": {"domain": [0, 916], "nice": false, "zero": false}, "axis": null}, "y": {"datum": 556.5, "type": "quantitative", "scale": {"domain": [0, 886], "nice": false, "zero": false, "reverse": true}, "axis": null}, "text": {"value": "Nodes infected sexually"}}},
        {"mark": {"type": "text", "font": "Liberation Serif", "fontSize": 35, "align": "left", "baseline": "alphabetic", "color": "#111111"},
         "encoding": {"x": {"datum": 558, "type": "quantitative", "scale": {"domain": [0, 916], "nice": false, "zero": false}, "axis": null}, "y": {"datum": 591.7, "type": "quantitative", "scale": {"domain": [0, 886], "nice": false, "zero": false, "reverse": true}, "axis": null}, "text": {"value": "Sexual transmission"}}},
        {"mark": {"type": "text", "font": "Liberation Serif", "fontSize": 32, "fontStyle": "italic", "align": "left", "baseline": "alphabetic", "color": "#111111"},
         "encoding": {"x": {"datum": 146, "type": "quantitative", "scale": {"domain": [0, 916], "nice": false, "zero": false}, "axis": null}, "y": {"datum": 433, "type": "quantitative", "scale": {"domain": [0, 886], "nice": false, "zero": false, "reverse": true}, "axis": null}, "text": {"value": "R"}}},
        {"mark": {"type": "text", "font": "Liberation Serif", "fontSize": 20, "align": "left", "baseline": "alphabetic", "color": "#111111"},
         "encoding": {"x": {"datum": 168, "type": "quantitative", "scale": {"domain": [0, 916], "nice": false, "zero": false}, "axis": null}, "y": {"datum": 442, "type": "quantitative", "scale": {"domain": [0, 886], "nice": false, "zero": false, "reverse": true}, "axis": null}, "text": {"value": "0"}}},
        {"mark": {"type": "text", "font": "Liberation Serif", "fontSize": 23, "align": "left", "baseline": "alphabetic", "color": "#111111"},
         "encoding": {"x": {"datum": 172, "type": "quantitative", "scale": {"domain": [0, 916], "nice": false, "zero": false}, "axis": null}, "y": {"datum": 418, "type": "quantitative", "scale": {"domain": [0, 886], "nice": false, "zero": false, "reverse": true}, "axis": null}, "text": {"value": "total"}}},
        {"mark": {"type": "text", "font": "DejaVu Sans", "fontSize": 24, "align": "left", "baseline": "alphabetic", "color": "#111111"},
         "encoding": {"x": {"datum": 229, "type": "quantitative", "scale": {"domain": [0, 916], "nice": false, "zero": false}, "axis": null}, "y": {"datum": 433, "type": "quantitative", "scale": {"domain": [0, 886], "nice": false, "zero": false, "reverse": true}, "axis": null}, "text": {"value": "≪"}}},
        {"mark": {"type": "text", "font": "Liberation Serif", "fontSize": 33, "align": "left", "baseline": "alphabetic", "color": "#111111"},
         "encoding": {"x": {"datum": 262, "type": "quantitative", "scale": {"domain": [0, 916], "nice": false, "zero": false}, "axis": null}, "y": {"datum": 433, "type": "quantitative", "scale": {"domain": [0, 886], "nice": false, "zero": false, "reverse": true}, "axis": null}, "text": {"value": "1"}}},
        {"mark": {"type": "text", "font": "Liberation Serif", "fontSize": 32, "fontStyle": "italic", "align": "left", "baseline": "alphabetic", "color": "#111111"},
         "encoding": {"x": {"datum": 635, "type": "quantitative", "scale": {"domain": [0, 916], "nice": false, "zero": false}, "axis": null}, "y": {"datum": 433, "type": "quantitative", "scale": {"domain": [0, 886], "nice": false, "zero": false, "reverse": true}, "axis": null}, "text": {"value": "R"}}},
        {"mark": {"type": "text", "font": "Liberation Serif", "fontSize": 20, "align": "left", "baseline": "alphabetic", "color": "#111111"},
         "encoding": {"x": {"datum": 657, "type": "quantitative", "scale": {"domain": [0, 916], "nice": false, "zero": false}, "axis": null}, "y": {"datum": 442, "type": "quantitative", "scale": {"domain": [0, 886], "nice": false, "zero": false, "reverse": true}, "axis": null}, "text": {"value": "0"}}},
        {"mark": {"type": "text", "font": "Liberation Serif", "fontSize": 23, "align": "left", "baseline": "alphabetic", "color": "#111111"},
         "encoding": {"x": {"datum": 661, "type": "quantitative", "scale": {"domain": [0, 916], "nice": false, "zero": false}, "axis": null}, "y": {"datum": 418, "type": "quantitative", "scale": {"domain": [0, 886], "nice": false, "zero": false, "reverse": true}, "axis": null}, "text": {"value": "sexual"}}},
        {"mark": {"type": "text", "font": "Liberation Serif", "fontSize": 33, "align": "left", "baseline": "alphabetic", "color": "#111111"},
         "encoding": {"x": {"datum": 733, "type": "quantitative", "scale": {"domain": [0, 916], "nice": false, "zero": false}, "axis": null}, "y": {"datum": 433, "type": "quantitative", "scale": {"domain": [0, 886], "nice": false, "zero": false, "reverse": true}, "axis": null}, "text": {"value": "<"}}},
        {"mark": {"type": "text", "font": "Liberation Serif", "fontSize": 33, "align": "left", "baseline": "alphabetic", "color": "#111111"},
         "encoding": {"x": {"datum": 760, "type": "quantitative", "scale": {"domain": [0, 916], "nice": false, "zero": false}, "axis": null}, "y": {"datum": 433, "type": "quantitative", "scale": {"domain": [0, 886], "nice": false, "zero": false, "reverse": true}, "axis": null}, "text": {"value": "1"}}},
        {"mark": {"type": "text", "font": "Liberation Serif", "fontSize": 32, "fontStyle": "italic", "align": "left", "baseline": "alphabetic", "color": "#111111"},
         "encoding": {"x": {"datum": 146, "type": "quantitative", "scale": {"domain": [0, 916], "nice": false, "zero": false}, "axis": null}, "y": {"datum": 873, "type": "quantitative", "scale": {"domain": [0, 886], "nice": false, "zero": false, "reverse": true}, "axis": null}, "text": {"value": "R"}}},
        {"mark": {"type": "text", "font": "Liberation Serif", "fontSize": 20, "align": "left", "baseline": "alphabetic", "color": "#111111"},
         "encoding": {"x": {"datum": 168, "type": "quantitative", "scale": {"domain": [0, 916], "nice": false, "zero": false}, "axis": null}, "y": {"datum": 883, "type": "quantitative", "scale": {"domain": [0, 886], "nice": false, "zero": false, "reverse": true}, "axis": null}, "text": {"value": "0"}}},
        {"mark": {"type": "text", "font": "Liberation Serif", "fontSize": 23, "align": "left", "baseline": "alphabetic", "color": "#111111"},
         "encoding": {"x": {"datum": 172, "type": "quantitative", "scale": {"domain": [0, 916], "nice": false, "zero": false}, "axis": null}, "y": {"datum": 859, "type": "quantitative", "scale": {"domain": [0, 886], "nice": false, "zero": false, "reverse": true}, "axis": null}, "text": {"value": "MSM"}}},
        {"mark": {"type": "text", "font": "Liberation Serif", "fontSize": 33, "align": "left", "baseline": "alphabetic", "color": "#111111"},
         "encoding": {"x": {"datum": 238, "type": "quantitative", "scale": {"domain": [0, 916], "nice": false, "zero": false}, "axis": null}, "y": {"datum": 873, "type": "quantitative", "scale": {"domain": [0, 886], "nice": false, "zero": false, "reverse": true}, "axis": null}, "text": {"value": ">"}}},
        {"mark": {"type": "text", "font": "Liberation Serif", "fontSize": 33, "align": "left", "baseline": "alphabetic", "color": "#111111"},
         "encoding": {"x": {"datum": 266, "type": "quantitative", "scale": {"domain": [0, 916], "nice": false, "zero": false}, "axis": null}, "y": {"datum": 873, "type": "quantitative", "scale": {"domain": [0, 886], "nice": false, "zero": false, "reverse": true}, "axis": null}, "text": {"value": "1"}}}
      ]
    }
  ]
}
